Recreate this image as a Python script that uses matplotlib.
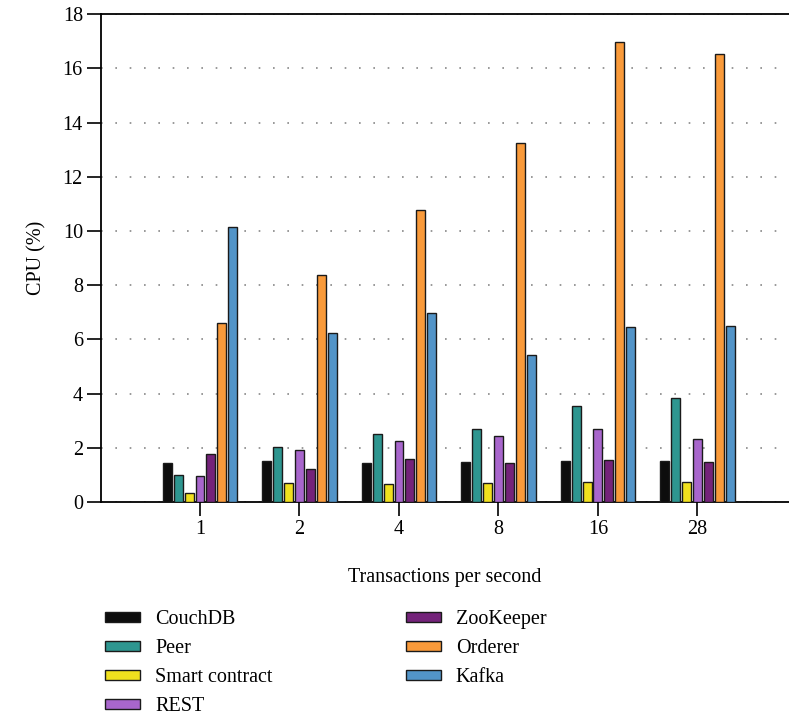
import matplotlib.pyplot as plt
import numpy as np

plt.rcParams['font.family'] = ['Liberation Serif', 'DejaVu Serif']

tps_labels = ['1', '2', '4', '8', '16', '28']
components = ['CouchDB', 'Peer', 'Smart contract', 'REST', 'ZooKeeper', 'Orderer', 'Kafka']
colors = ['#0d0d0d', '#2e9690', '#f0e01e', '#a866cc', '#74237a', '#f99a3a', '#5294c8']

couchdb = [1.44, 1.52, 1.45, 1.49, 1.50, 1.52]
peer = [1.00, 2.03, 2.51, 2.70, 3.54, 3.82]
smart_contract = [0.33, 0.70, 0.66, 0.69, 0.73, 0.74]
rest = [0.96, 1.92, 2.26, 2.42, 2.68, 2.33]
zookeeper = [1.77, 1.22, 1.57, 1.44, 1.55, 1.47]
orderer = [6.60, 8.37, 10.78, 13.25, 16.96, 16.55]
kafka = [10.15, 6.23, 6.97, 5.43, 6.47, 6.50]

series = [couchdb, peer, smart_contract, rest, zookeeper, orderer, kafka]

fig = plt.figure(figsize=(7.89, 7.16), dpi=100)
ax = fig.add_axes([0.128, 0.299, 0.872, 0.681])

x = np.arange(len(tps_labels))
step = 0.11
width = 0.09
for i, (name, vals, col) in enumerate(zip(components, series, colors)):
    ax.bar(x + (i - 3) * step, vals, width, color=col, edgecolor='#1a1a1a',
           linewidth=1.0, label=name, zorder=3)

ax.set_xlim(-0.995, 5.92)
ax.set_ylim(0, 18)
ax.set_yticks(np.arange(0, 19, 2))
ax.set_xticks(x)
ax.set_xticklabels(tps_labels)
ax.tick_params(axis='both', direction='out', length=10, width=1.2, labelsize=14.5, pad=3)
ax.yaxis.grid(True, linestyle=(0, (1, 7.6)), color='#888888', linewidth=1.2, zorder=0)
ax.spines['right'].set_visible(False)
for s in ['left', 'top', 'bottom']:
    ax.spines[s].set_linewidth(1.3)

ax.set_xlabel('Transactions per second', fontsize=14.5, labelpad=21)
ax.set_ylabel('CPU (%)', fontsize=14.5, labelpad=12)

handles, labels = ax.get_legend_handles_labels()
fig.legend(handles, labels, loc='upper left', bbox_to_anchor=(0.133, 0.148),
           ncol=2, frameon=False, fontsize=14.5, handlelength=1.75, handleheight=0.4,
           columnspacing=6.6, labelspacing=0.5, handletextpad=0.75,
           borderaxespad=0, borderpad=0)

fig.savefig('out.png', dpi=100)
